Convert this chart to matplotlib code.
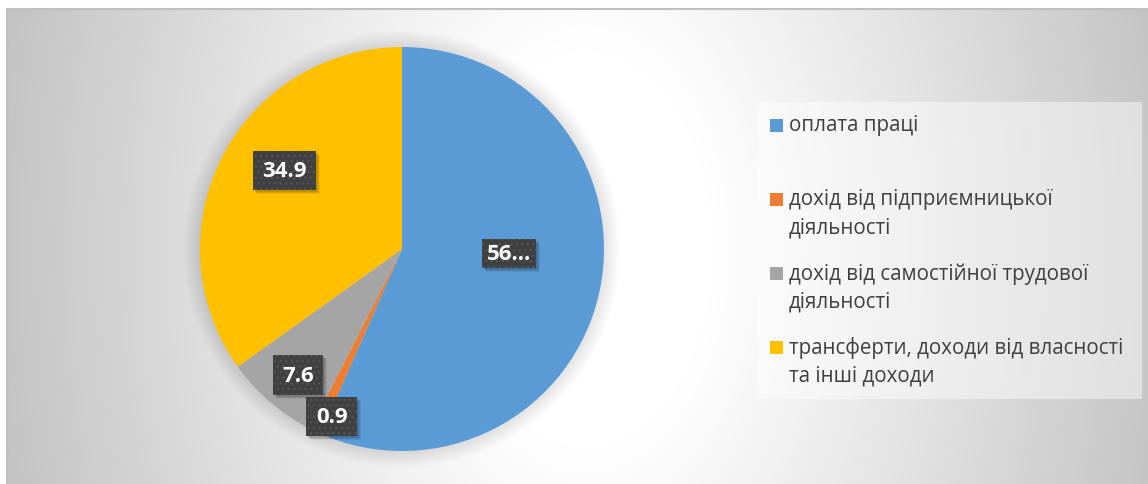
import numpy as np
import matplotlib
matplotlib.use('Agg')
import matplotlib.pyplot as plt
from matplotlib.patches import Rectangle, Circle
from matplotlib.transforms import IdentityTransform

plt.rcParams['font.family'] = ['Open Sans', 'DejaVu Sans']

# data
categories = ['оплата праці',
              'дохід від підприємницької\nдіяльності',
              'дохід від самостійної трудової\nдіяльності',
              'трансферти, доходи від власності\nта інші доходи']
values = [56.6, 0.9, 7.6, 34.9]
data_labels = ['56...', '0.9', '7.6', '34.9']
colors = ['#5B9BD5', '#ED7D31', '#A5A5A5', '#FFC000']

# where each data label sits (fraction of radius, angle nudge in degrees)
lab_r = [0.53, 0.90, 0.81, 0.70]
lab_nudge = [9.5, 2.6, 1.2, -6.5]
lab_pad = [0.2, 0.42, 0.42, 0.42]

W, H = 1148, 485
fig = plt.figure(figsize=(W / 100, H / 100), dpi=100)


def fx(px):
    return px / W


def fy(py):
    return 1 - py / H


# background gradient of the chart area
bg = fig.add_axes([fx(7), 0, fx(W) - fx(7), fy(10)])
ys, xs = np.mgrid[10:H, 7:W] + 0.5
d = np.sqrt(((xs - 585) / 580) ** 2 + ((ys - 250) / 900) ** 2)
t = np.clip((d - 0.22) / (1.03 - 0.22), 0, 1)
g = (255 - 60 * t) / 255
bg.imshow(np.dstack([g, g, g]), aspect='auto', interpolation='bilinear')
bg.set_xticks([])
bg.set_yticks([])
for s in ['right', 'bottom']:
    bg.spines[s].set_visible(False)
for s in ['top', 'left']:
    bg.spines[s].set_color('#bfbfbf')
    bg.spines[s].set_linewidth(1.5)

# pie
ax = fig.add_axes([fx(200), fy(452), 404 / W, 404 / H])
for r in np.linspace(1.08, 1.0, 10):
    ax.add_patch(Circle((0, 0), r, fc='black', ec='none', alpha=0.012,
                        zorder=0, clip_on=False))
wedges, _ = ax.pie(values, colors=colors, startangle=90, counterclock=False,
                   radius=1, wedgeprops=dict(linewidth=0))
ax.set_xlim(-1, 1)
ax.set_ylim(-1, 1)
ax.set_aspect('equal')
ax.axis('off')

texts = []
for i, w in enumerate(wedges):
    mid = np.deg2rad((w.theta1 + w.theta2) / 2 + lab_nudge[i])
    x, y = lab_r[i] * np.cos(mid), lab_r[i] * np.sin(mid)
    texts.append(ax.text(x, y, data_labels[i], ha='center', va='center', color='white',
                         fontsize=16, fontweight='bold', zorder=5,
                         bbox=dict(boxstyle='square,pad=%s' % lab_pad[i], fc='#404040',
                                   ec='#535353', lw=0, hatch='...')))

# soft shadow under each label box
fig.canvas.draw()
for txt in texts:
    bb = txt.get_bbox_patch().get_window_extent()
    for k, a in [(4, 0.06), (3, 0.09), (2, 0.12)]:
        ax.add_patch(Rectangle((bb.x0 + k, bb.y0 - k), bb.width, bb.height,
                               transform=IdentityTransform(), fc='black', ec='none',
                               alpha=a, zorder=4, clip_on=False))

# legend
fig.add_artist(Rectangle((fx(757), fy(400)), 385 / W, 297 / H,
                         transform=fig.transFigure, fc='white', ec='none', alpha=0.45))
for i, (lab, c) in enumerate(zip(categories, colors)):
    y0 = 126 + 74 * i
    fig.add_artist(Rectangle((fx(770), fy(y0 + 6.5)), 13 / W, 13 / H,
                             transform=fig.transFigure, fc=c, ec='none'))
    for j, line in enumerate(lab.split('\n')):
        fig.text(fx(789), fy(y0 + 28.5 * j), line, ha='left', va='center',
                 fontsize=14.8, color='#404040')

fig.savefig('out.png', dpi=100)
